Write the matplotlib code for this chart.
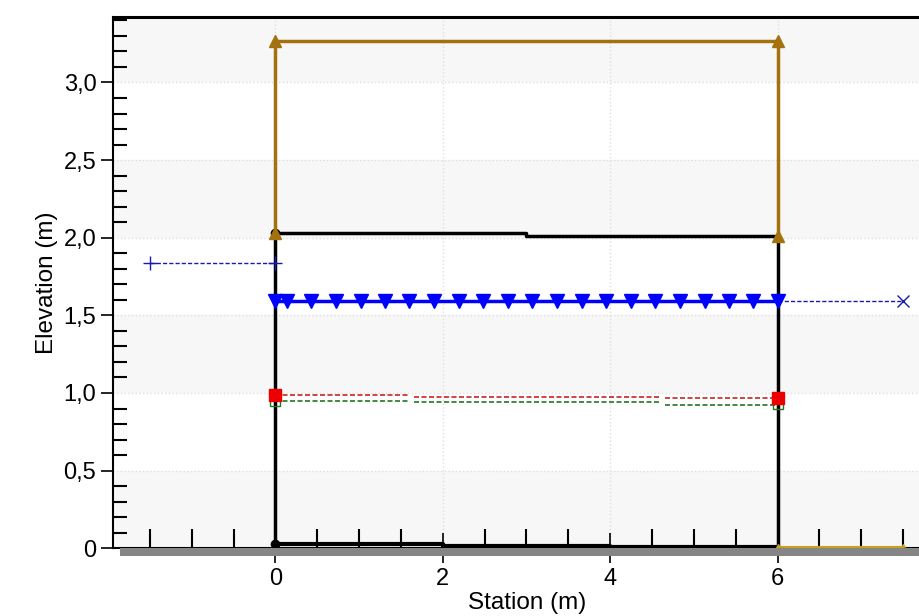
import matplotlib
matplotlib.use("Agg")
import matplotlib.pyplot as plt
from matplotlib.patches import Rectangle
from matplotlib.ticker import MultipleLocator, FuncFormatter
import numpy as np

nan = np.nan

# culvert roof / road (brown)
road_x = [0, 0, 6, 6]
road_y = [2.03, 3.265, 3.265, 2.01]
# ground downstream of outlet
ground_x = [6, 7.5]
ground_y = [0.005, 0.005]

# culvert barrel outline (black)
barrel_x = [0, 0, 3, 3, 6, 6]
barrel_y = [0.03, 2.03, 2.03, 2.01, 2.01, 0.0]
invert_x = [0, 2, 2, 4, 4, 6]
invert_y = [0.03, 0.03, 0.015, 0.015, 0.005, 0.005]

# water surface in barrel
ws_x = [0, 0.14, 0.43, 0.72, 1.02, 1.31, 1.60, 1.90, 2.19, 2.48, 2.78,
        3.07, 3.37, 3.66, 3.95, 4.25, 4.54, 4.83, 5.13, 5.42, 5.71, 6.0]
ws_y = [1.595] * len(ws_x)

# upstream / downstream water surface
up_x = [-1.5, 0]
up_y = [1.835, 1.835]
dn_x = [6, 7.5]
dn_y = [1.59, 1.59]

# energy grade and critical depth lines
eg_x = [0, 1.6, nan, 1.66, 4.6, nan, 4.66, 6]
eg_y = [0.985, 0.985, nan, 0.975, 0.975, nan, 0.965, 0.965]
crit_x = [0, 1.6, nan, 1.66, 4.6, nan, 4.66, 6]
crit_y = [0.95, 0.95, nan, 0.94, 0.94, nan, 0.925, 0.925]
eg_end_x = [0, 6]
eg_end_y = [0.985, 0.965]
crit_end_x = [0, 6]
crit_end_y = [0.95, 0.93]

plt.rcParams['font.family'] = ['Liberation Sans', 'DejaVu Sans']

fig = plt.figure(figsize=(9.19, 6.16), dpi=100)
ax = fig.add_axes([0.123, 0.110, 0.877, 0.862])

# shadow under the x axis
fig.patches.append(Rectangle((0.131, 0.098), 0.87, 0.012, transform=fig.transFigure,
                             facecolor='#858585', edgecolor='none', zorder=0))

for lo in [0, 1, 2, 3]:
    ax.axhspan(lo, lo + 0.5, color='#f7f7f7', zorder=0, lw=0)

brown = '#a3720f'
ax.plot(road_x, road_y, color=brown, lw=2.5, marker='^', ms=9, zorder=4)
ax.plot(ground_x, ground_y, color='#c8a020', lw=1.5, marker='^', ms=5,
        mfc='none', zorder=4)
ax.plot(barrel_x, barrel_y, color='black', lw=2.5, zorder=3)
ax.plot(invert_x, invert_y, color='black', lw=3, zorder=3)
ax.plot([0], [0.03], color='black', marker='o', ms=6, zorder=3)
ax.plot([0], [2.03], color='black', marker='o', ms=6, zorder=3)

ax.plot(ws_x, ws_y, color='#0000ff', lw=2.5, marker='v', ms=10, zorder=5)
ax.plot(up_x, up_y, color='#1a1aaa', lw=1, ls=(0, (3, 1.5)), marker='+', ms=10, zorder=4)
ax.plot(dn_x, dn_y, color='#1a1aaa', lw=1, ls=(0, (3, 1.5)), zorder=4)
ax.plot([7.5], [1.59], color='#1a1aaa', marker='x', ms=8, zorder=4)

ax.plot(eg_x, eg_y, color='#cc2222', lw=1.2, ls=(0, (3, 1.5)), zorder=4)
ax.plot(crit_x, crit_y, color='#227722', lw=1.2, ls=(0, (3, 1.5)), zorder=4)
ax.plot(crit_end_x, crit_end_y, ls='none', marker='s', ms=7, mfc='none',
        mec='#227722', zorder=4)
ax.plot(eg_end_x, eg_end_y, ls='none', marker='s', ms=8, color='#ee0000', zorder=5)

ax.set_xlim(-1.94, 7.69)
ax.set_ylim(0, 3.42)

ax.xaxis.set_major_locator(MultipleLocator(2))
ax.xaxis.set_minor_locator(MultipleLocator(0.5))
ax.yaxis.set_major_locator(MultipleLocator(0.5))
ax.yaxis.set_minor_locator(MultipleLocator(0.1))

def comma(v, pos):
    if abs(v) < 1e-9:
        return '0'
    return ('%.1f' % v).replace('.', ',')

ax.yaxis.set_major_formatter(FuncFormatter(comma))
ax.xaxis.set_major_formatter(FuncFormatter(lambda v, p: '%d' % v))

ax.tick_params(axis='y', which='major', direction='out', length=9, width=1.2,
               labelsize=17, pad=3)
ax.tick_params(axis='y', which='minor', direction='in', length=10, width=1.5)
ax.tick_params(axis='x', which='major', direction='inout', length=22, width=1.2,
               labelsize=17, pad=3)
ax.tick_params(axis='x', which='minor', direction='in', length=14, width=1.5)

ax.grid(True, which='major', color='#dedede', ls=':', lw=1)
ax.set_axisbelow(True)

ax.spines['right'].set_visible(False)
ax.spines['top'].set_linewidth(2.2)
ax.spines['left'].set_linewidth(1.5)
ax.spines['bottom'].set_linewidth(1.5)

ax.set_xlabel('Station (m)', fontsize=17.5, labelpad=2)
ax.xaxis.label.set_x(0.514)
ax.set_ylabel('Elevation (m)', fontsize=17.5, labelpad=4)

fig.savefig('out.png', dpi=100)
